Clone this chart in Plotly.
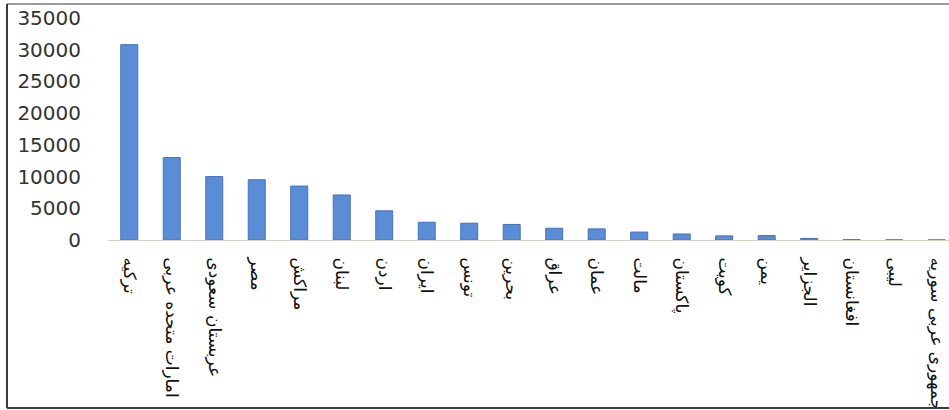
import plotly.graph_objects as go

countries = ["ترکیه", "امارات متحده عربی", "عربستان سعودی", "مصر", "مراکش", "لبنان",
             "اردن", "ایران", "تونس", "بحرین", "عراق", "عمان", "مالت", "پاکستان",
             "کویت", "یمن", "الجزایر", "افغانستان", "لیبی", "جمهوری عربی سوریه"]
values = [30800, 13000, 10000, 9500, 8500, 7100, 4600, 2800, 2650, 2450, 1850, 1750,
          1250, 950, 650, 700, 250, 50, 20, 10]
y_ticks = [0, 5000, 10000, 15000, 20000, 25000, 30000, 35000]

W, H = 949, 410
ML, MR, MT, MB = 108, 0, 18, 170

fig = go.Figure(go.Bar(
    x=countries, y=values,
    marker=dict(color="#5b8cd6", line=dict(color="#4672bd", width=1)),
))

pw = W - ML - MR
ph = H - MT - MB
def px_x(v):
    return (v - ML) / pw
def px_y(v):
    return (H - MB - v) / ph

line_dark = dict(color="#3a3a3a", width=2)
fig.update_layout(
    width=W, height=H,
    margin=dict(l=ML, r=MR, t=MT, b=MB, autoexpand=False),
    paper_bgcolor="white", plot_bgcolor="white",
    bargap=0.6,
    showlegend=False,
    font=dict(family="DejaVu Sans", color="#333333"),
    xaxis=dict(
        type="category", range=[-0.5, 19.29],
        tickangle=90, tickfont=dict(family="DejaVu Sans", size=17, color="#111111"),
        showline=True, linecolor="#d8d0c4", linewidth=1,
        ticks="", showgrid=False, ticklabelstandoff=13,
    ),
    yaxis=dict(
        range=[0, 35000], tickvals=y_ticks, ticktext=[str(v) for v in y_ticks],
        tickfont=dict(family="DejaVu Sans", size=20, color="#333333"),
        showgrid=False, zeroline=False, showline=False, ticks="",
        ticklabelstandoff=26,
    ),
    shapes=[
        dict(type="line", xref="paper", yref="paper",
             x0=px_x(7), x1=px_x(949), y0=px_y(4), y1=px_y(4),
             line=dict(color="#9a9a9a", width=2)),
        dict(type="line", xref="paper", yref="paper",
             x0=px_x(7), x1=px_x(7), y0=px_y(4), y1=px_y(408),
             line=line_dark),
        dict(type="line", xref="paper", yref="paper",
             x0=px_x(7), x1=px_x(949), y0=px_y(408), y1=px_y(408),
             line=line_dark),
    ],
)

fig.write_html("out.html", config={"displayModeBar": False},
               post_script="document.body.style.margin='0';")
